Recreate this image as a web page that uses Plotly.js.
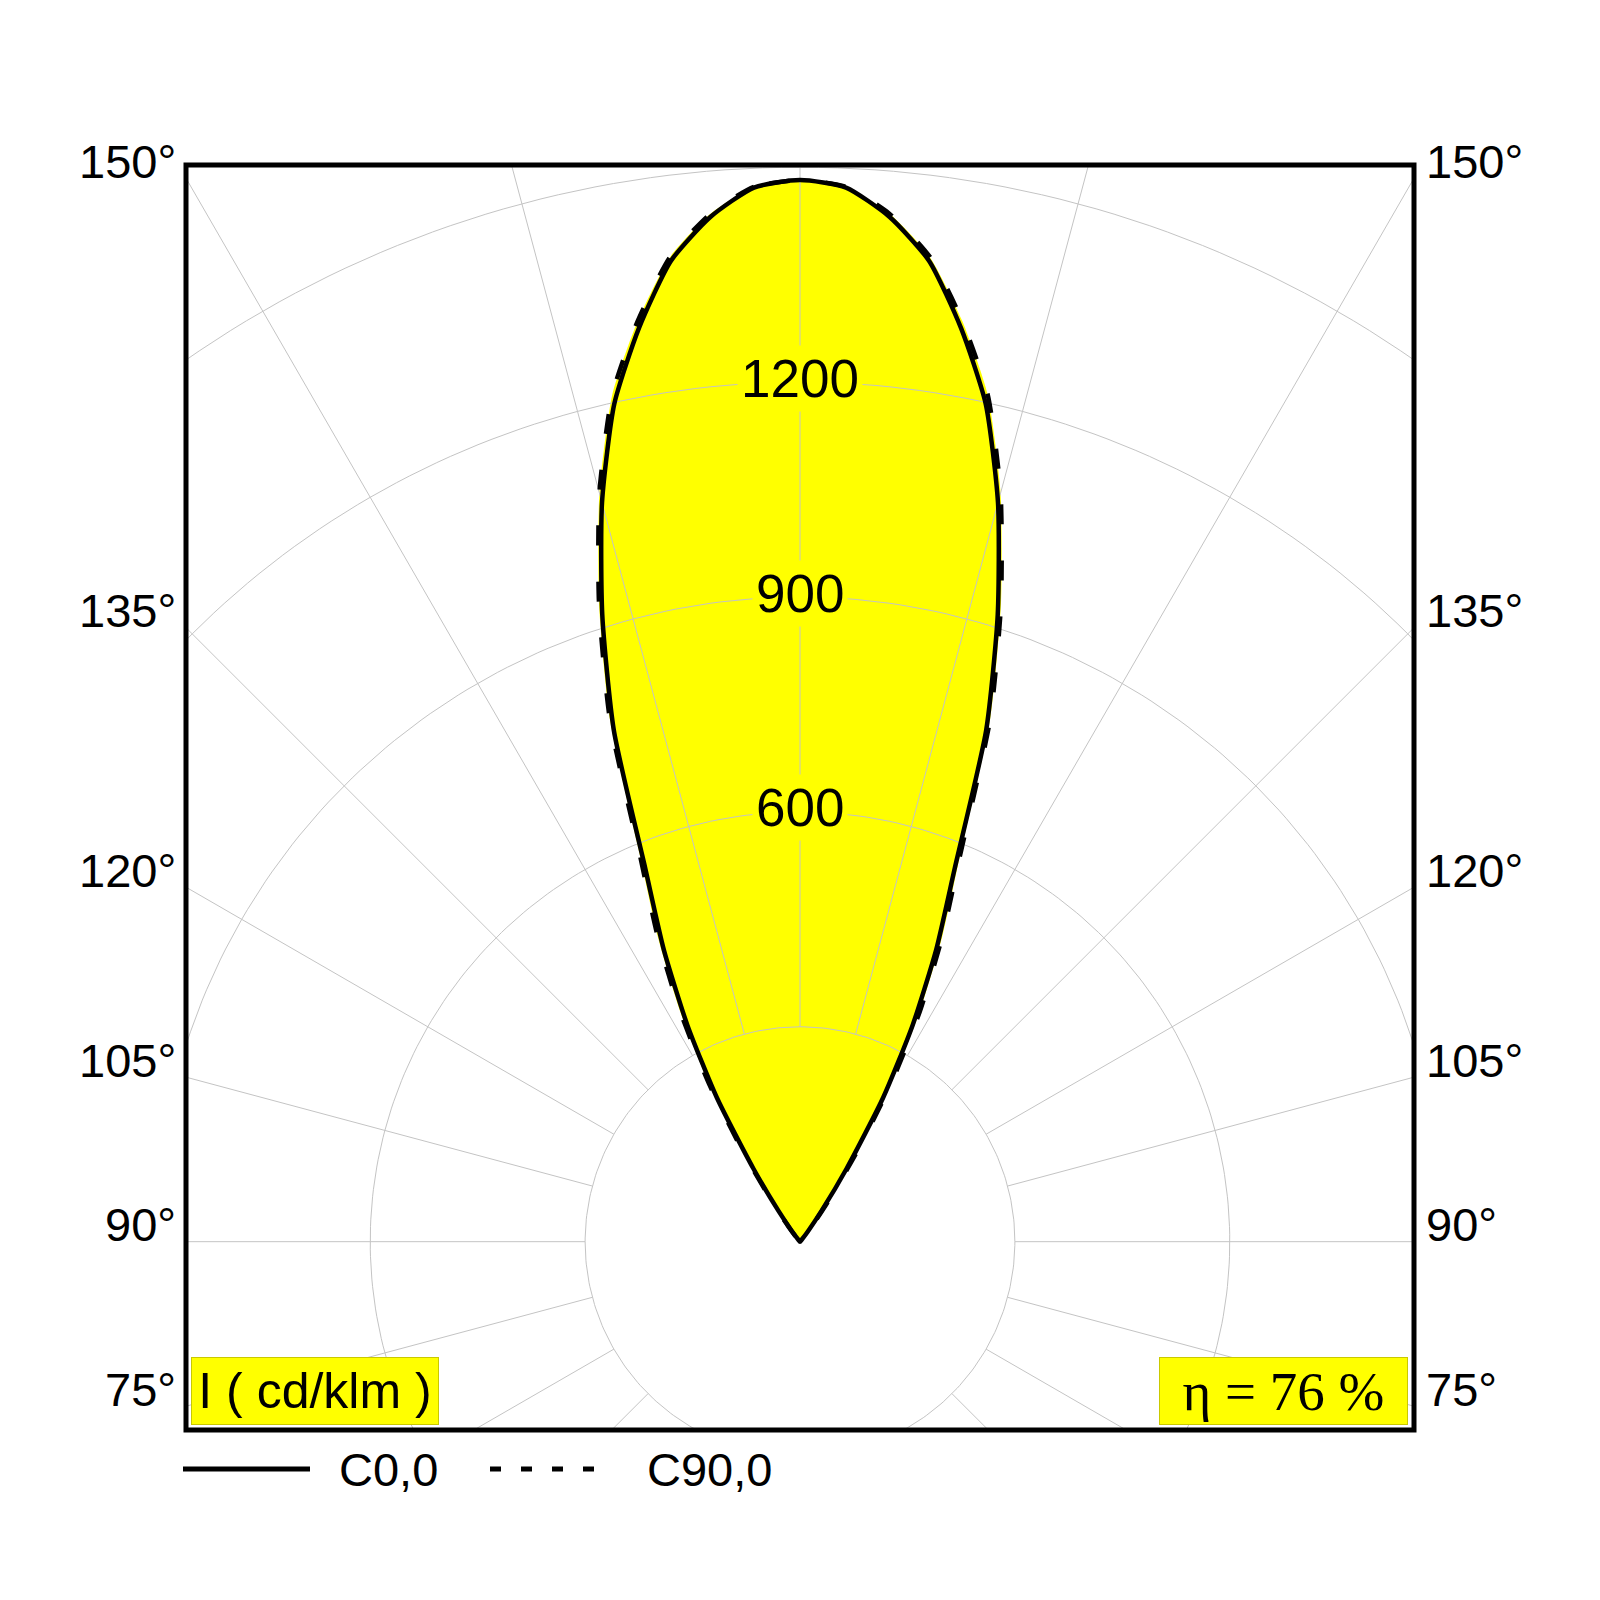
<!DOCTYPE html>
<html>
<head>
<meta charset="utf-8">
<script src="https://cdn.plot.ly/plotly-3.0.1.min.js"></script>
<style>
  html, body { margin: 0; padding: 0; background: #fff; }
  #chart { width: 1600px; height: 1600px; }
</style>
</head>
<body>
<div id="chart"></div>
<script>
(() => {
    "use strict";

    // luminous intensity (cd/klm) against gamma, measured from nadir
    const gamma = [180, 177.5, 175, 172.5, 170, 167.5, 165, 162.5, 160, 157.5, 155, 152.5, 150, 147.5, 145, 142.5, 140, 137.5];
    const c0 = [1482, 1473, 1436, 1381, 1295, 1198, 1068, 918, 760, 565, 450, 340, 232, 122, 52, 18, 4, 0];
    const c90 = [1482, 1474, 1440, 1387, 1305, 1211, 1082, 933, 776, 584, 470, 362, 252, 142, 66, 26, 8, 0];

    const ringValues = [300, 600, 900, 1200, 1500];
    const ringLabels = [600, 900, 1200];
    const spokeAngles = [0, 15, 30, 45, 60, 75, 90, 105, 120, 135, 150, 165, 180, 195, 210, 225, 240, 255, 270, 285, 300, 315, 330, 345];
    const sideLabels = [75, 90, 105, 120, 135, 150];
    const seriesNames = ["C0,0", "C90,0"];
    const unitLabel = "I ( cd/klm )";
    const efficiency = 76;

    const xHalf = 857.2;
    const yRange = [-262.9, 1503.1];
    const rad = (d) => (d * Math.PI) / 180;

    // plot area in pixels: 186..1414 x 165..1430
    const px = (x) => (x - 186) / 1228;
    const py = (y) => (1430 - y) / 1265;

    const curve = (values) => {
        const x = [];
        const y = [];
        gamma.forEach((g, i) => {
            x.push(-values[i] * Math.sin(rad(g)));
            y.push(-values[i] * Math.cos(rad(g)));
        });
        for (let i = gamma.length - 2; i >= 0; i--) {
            x.push(values[i] * Math.sin(rad(gamma[i])));
            y.push(-values[i] * Math.cos(rad(gamma[i])));
        }
        return { x, y };
    };

    const ringX = [];
    const ringY = [];
    ringValues.forEach((r) => {
        for (let a = 0; a <= 360; a += 1) {
            ringX.push(r * Math.sin(rad(a)));
            ringY.push(-r * Math.cos(rad(a)));
        }
        ringX.push(null);
        ringY.push(null);
    });

    const spokeX = [];
    const spokeY = [];
    spokeAngles.forEach((a) => {
        [ringValues[0], 3000].forEach((r) => {
            spokeX.push(r * Math.sin(rad(a)));
            spokeY.push(-r * Math.cos(rad(a)));
        });
        spokeX.push(null);
        spokeY.push(null);
    });

    const k0 = curve(c0);
    const k90 = curve(c90);
    const gridStyle = { color: "#c4c4c4", width: 1 };
    const smooth = { shape: "spline", smoothing: 0.6 };

    const traces = [
        { x: k90.x, y: k90.y, type: "scatter", mode: "lines", fill: "toself", fillcolor: "#ffff00", line: { width: 0, ...smooth } },
        { x: k0.x, y: k0.y, type: "scatter", mode: "lines", fill: "toself", fillcolor: "#ffff00", line: { width: 0, ...smooth } },
        { x: ringX, y: ringY, type: "scatter", mode: "lines", line: gridStyle },
        { x: spokeX, y: spokeY, type: "scatter", mode: "lines", line: gridStyle },
        { x: k90.x, y: k90.y, type: "scatter", mode: "lines", line: { color: "#000", width: 4.5, dash: "20px,36px", ...smooth } },
        { x: k0.x, y: k0.y, type: "scatter", mode: "lines", line: { color: "#000", width: 4.5, ...smooth } },
    ];

    const sans = "Liberation Sans, Arial, sans-serif";
    const annotations = [];

    ringLabels.forEach((v) => {
        annotations.push({
            x: 0, y: v, xref: "x", yref: "y", text: String(v), showarrow: false,
            font: { family: sans, size: 53, color: "#000" },
            bgcolor: "#ffff00", borderpad: 3, yshift: 4,
        });
    });

    sideLabels.forEach((g) => {
        const yEdge = (-xHalf * Math.cos(rad(g))) / Math.sin(rad(g));
        [["right", 0, -8], ["left", 1, 10]].forEach(([anchor, xp, shift]) => {
            annotations.push({
                x: xp, y: yEdge, xref: "paper", yref: "y", text: g + "°", showarrow: false,
                xanchor: anchor, yanchor: "middle", xshift: shift, yshift: 17,
                font: { family: sans, size: 47, color: "#000" },
            });
        });
    });

    annotations.push({
        x: px(191), y: py(1425), xref: "paper", yref: "paper", xanchor: "left", yanchor: "bottom",
        text: unitLabel, showarrow: false, width: 246, height: 66, borderpad: 0,
        bgcolor: "#ffff00", bordercolor: "#c9c900", borderwidth: 1,
        font: { family: sans, size: 50, color: "#000" },
    });
    annotations.push({
        x: px(1159), y: py(1425), xref: "paper", yref: "paper", xanchor: "left", yanchor: "bottom",
        text: "η = " + efficiency + " %", showarrow: false, width: 247, height: 66, borderpad: 0,
        bgcolor: "#ffff00", bordercolor: "#c9c900", borderwidth: 1,
        font: { family: "Liberation Serif, Times New Roman, serif", size: 55, color: "#000" },
    });

    [[337, seriesNames[0]], [645, seriesNames[1]]].forEach(([x, t]) => {
        annotations.push({
            x: px(x), y: py(1469), xref: "paper", yref: "paper", xanchor: "left", yanchor: "middle",
            text: t, showarrow: false, font: { family: sans, size: 47, color: "#000" },
        });
    });

    const shapes = [
        { type: "rect", xref: "paper", yref: "paper", x0: 0, x1: 1, y0: 0, y1: 1, line: { color: "#000", width: 5 } },
        { type: "line", xref: "paper", yref: "paper", x0: px(183), x1: px(310), y0: py(1469), y1: py(1469), line: { color: "#000", width: 5 } },
        { type: "line", xref: "paper", yref: "paper", x0: px(490), x1: px(595), y0: py(1469), y1: py(1469), line: { color: "#000", width: 5, dash: "11px,20px" } },
    ];

    const layout = {
        width: 1600,
        height: 1600,
        margin: { l: 186, r: 186, t: 165, b: 170 },
        paper_bgcolor: "#fff",
        plot_bgcolor: "#fff",
        showlegend: false,
        hovermode: false,
        xaxis: { range: [-xHalf, xHalf], visible: false, fixedrange: true },
        yaxis: { range: yRange, visible: false, fixedrange: true },
        annotations,
        shapes,
    };

    Plotly.newPlot("chart", traces, layout, { staticPlot: true, displayModeBar: false });
})();
</script>
</body>
</html>
